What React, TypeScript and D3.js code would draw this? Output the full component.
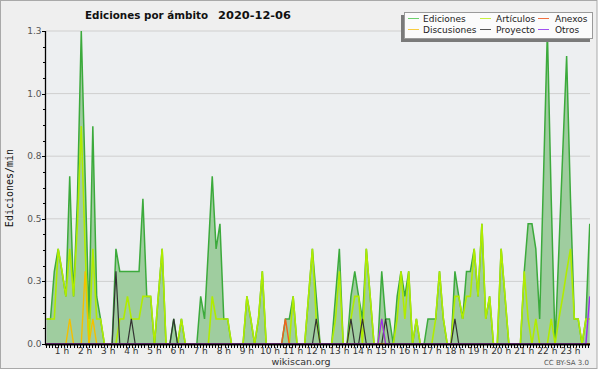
import React from "react";
import * as d3 from "d3";

// one sample every 10 minutes, first one at 00:20
const START_MIN = 20;
const STEP_MIN = 10;

// edits per minute
const ediciones = [
  0.1, 0.1, 0.29, 0.38, 0.29, 0.19, 0.67, 0.19, 0.58, 1.25, 0.67, 0.1, 0.87, 0.19, 0.1, 0, 0, 0, 0.38, 0.29,
  0.29, 0.29, 0.29, 0.29, 0.29, 0.58, 0.19, 0.19, 0, 0.19, 0.38, 0, 0, 0.1, 0, 0.1, 0, 0, 0, 0,
  0.19, 0.1, 0.38, 0.67, 0.38, 0.48, 0.1, 0.1, 0, 0, 0, 0, 0.19, 0.1, 0, 0.1, 0.29, 0, 0, 0,
  0, 0, 0.1, 0.1, 0.19, 0, 0, 0, 0.19, 0.38, 0.19, 0, 0, 0, 0, 0.19, 0.38, 0, 0, 0.19,
  0.29, 0.19, 0.1, 0.38, 0.19, 0, 0, 0.29, 0.1, 0.1, 0, 0.19, 0.29, 0.19, 0.29, 0, 0.1, 0, 0, 0.1,
  0.1, 0.1, 0.29, 0.1, 0, 0, 0.29, 0.19, 0.1, 0.29, 0.29, 0.38, 0.19, 0.48, 0.1, 0.19, 0, 0, 0.38, 0.19,
  0, 0, 0, 0, 0.29, 0.48, 0.48, 0.38, 0.1, 0.67, 1.25, 0.58, 0, 0.38, 0.77, 1.15, 0.58, 0.1, 0.1, 0,
  0.1, 0.48,
];

const articulos = [
  0.1, 0.1, 0.1, 0.38, 0.29, 0.19, 0.38, 0.19, 0.48, 0.87, 0.38, 0, 0.38, 0.1, 0.1, 0, 0, 0, 0, 0.1,
  0.1, 0.19, 0.1, 0.1, 0.1, 0.19, 0.19, 0.19, 0, 0.19, 0.38, 0, 0, 0, 0, 0.1, 0, 0, 0, 0,
  0, 0, 0, 0.19, 0.1, 0.1, 0.1, 0.1, 0, 0, 0, 0, 0.19, 0.1, 0, 0.1, 0.29, 0, 0, 0,
  0, 0, 0, 0, 0.19, 0, 0, 0, 0.19, 0.38, 0.1, 0, 0, 0, 0, 0.1, 0.29, 0, 0, 0.1,
  0.19, 0.19, 0, 0.38, 0.19, 0, 0, 0.1, 0, 0, 0, 0.1, 0.29, 0.1, 0.29, 0, 0.1, 0, 0, 0,
  0, 0.1, 0.29, 0.1, 0, 0, 0.19, 0.19, 0.1, 0.19, 0.19, 0.38, 0.19, 0.48, 0.1, 0.19, 0, 0, 0.38, 0.19,
  0, 0, 0, 0, 0.29, 0.1, 0, 0.1, 0, 0, 0, 0.1, 0, 0.1, 0.19, 0.29, 0.38, 0.1, 0.1, 0,
  0.1, 0.1,
];

const discusiones = [
  0, 0, 0, 0, 0, 0, 0.1, 0, 0, 0, 0.29, 0, 0.1, 0, 0, 0, 0, 0, 0, 0,
  0, 0, 0, 0, 0, 0, 0, 0, 0, 0, 0, 0, 0, 0, 0, 0, 0, 0, 0, 0,
  0, 0, 0, 0, 0, 0, 0, 0, 0, 0, 0, 0, 0, 0, 0, 0, 0, 0, 0, 0,
  0, 0, 0, 0, 0, 0, 0, 0, 0, 0, 0, 0, 0, 0, 0, 0, 0, 0, 0, 0,
  0, 0, 0, 0, 0, 0, 0, 0, 0, 0, 0, 0, 0, 0, 0, 0, 0, 0, 0, 0,
  0, 0, 0, 0, 0, 0, 0, 0, 0, 0, 0, 0, 0, 0, 0, 0, 0, 0, 0, 0,
  0, 0, 0, 0, 0, 0, 0, 0, 0, 0, 0, 0, 0, 0, 0, 0, 0, 0, 0, 0,
  0, 0,
];

const proyecto = [
  0, 0, 0, 0, 0, 0, 0, 0, 0, 0, 0, 0, 0, 0, 0, 0, 0, 0, 0.29, 0,
  0, 0, 0.1, 0, 0, 0, 0, 0, 0, 0, 0, 0, 0, 0.1, 0, 0, 0, 0, 0, 0,
  0, 0, 0, 0, 0, 0, 0, 0, 0, 0, 0, 0, 0, 0, 0, 0, 0, 0, 0, 0,
  0, 0, 0, 0, 0, 0, 0, 0, 0, 0, 0.1, 0, 0, 0, 0, 0, 0, 0, 0, 0.1,
  0, 0, 0.1, 0, 0, 0, 0, 0, 0.1, 0, 0, 0, 0, 0, 0, 0, 0, 0, 0, 0,
  0, 0, 0, 0, 0, 0, 0.1, 0, 0, 0, 0, 0, 0, 0, 0, 0, 0, 0, 0, 0,
  0, 0, 0, 0, 0, 0, 0, 0, 0, 0, 0, 0, 0, 0, 0, 0, 0, 0, 0, 0,
  0, 0,
];

const anexos = [
  0, 0, 0, 0, 0, 0, 0, 0, 0, 0, 0, 0, 0, 0, 0, 0, 0, 0, 0, 0,
  0, 0, 0, 0, 0, 0, 0, 0, 0, 0, 0, 0, 0, 0, 0, 0, 0, 0, 0, 0,
  0, 0, 0, 0, 0, 0, 0, 0, 0, 0, 0, 0, 0, 0, 0, 0, 0, 0, 0, 0,
  0, 0, 0.1, 0, 0, 0, 0, 0, 0, 0, 0, 0, 0, 0, 0, 0, 0, 0, 0, 0,
  0, 0, 0, 0, 0, 0, 0, 0, 0, 0, 0, 0, 0, 0, 0, 0, 0, 0, 0, 0,
  0, 0, 0, 0, 0, 0, 0, 0, 0, 0, 0, 0, 0, 0, 0, 0, 0, 0, 0, 0,
  0, 0, 0, 0, 0, 0, 0, 0, 0, 0, 0, 0, 0, 0, 0, 0, 0, 0, 0, 0,
  0, 0,
];

const otros = [
  0, 0, 0, 0, 0, 0, 0, 0, 0, 0, 0, 0, 0, 0, 0, 0, 0, 0, 0, 0,
  0, 0, 0, 0, 0, 0, 0, 0, 0, 0, 0, 0, 0, 0, 0, 0, 0, 0, 0, 0,
  0, 0, 0, 0, 0, 0, 0, 0, 0, 0, 0, 0, 0, 0, 0, 0, 0, 0, 0, 0,
  0, 0, 0, 0, 0, 0, 0, 0, 0, 0, 0, 0, 0, 0, 0, 0, 0, 0, 0, 0,
  0, 0, 0, 0, 0, 0, 0, 0.1, 0, 0, 0, 0, 0, 0, 0, 0, 0, 0, 0, 0,
  0, 0, 0, 0, 0, 0, 0, 0, 0, 0, 0, 0, 0, 0, 0, 0, 0, 0, 0, 0,
  0, 0, 0, 0, 0, 0, 0, 0, 0, 0, 0, 0, 0, 0, 0, 0, 0, 0, 0, 0,
  0, 0.19,
];

const hourLabels = [
  "1 h", "2 h", "3 h", "4 h", "5 h", "6 h", "7 h", "8 h", "9 h", "10 h", "11 h", "12 h",
  "13 h", "14 h", "15 h", "16 h", "17 h", "18 h", "19 h", "20 h", "21 h", "22 h", "23 h",
];
const yTicks = [0, 0.25, 0.5, 0.75, 1, 1.25];

const lineSeries = [
  { name: "Artículos", values: articulos, color: "#b0ec00", width: 1.6 },
  { name: "Discusiones", values: discusiones, color: "#f4c000", width: 1.4 },
  { name: "Proyecto", values: proyecto, color: "#333333", width: 1.2 },
  { name: "Anexos", values: anexos, color: "#f0621e", width: 1.4 },
  { name: "Otros", values: otros, color: "#9a2ff0", width: 1.4 },
];

const legendItems = [
  { name: "Ediciones", color: "#6ccf6c", col: 0, row: 0 },
  { name: "Discusiones", color: "#f8cc40", col: 0, row: 1 },
  { name: "Artículos", color: "#c8f040", col: 1, row: 0 },
  { name: "Proyecto", color: "#555555", col: 1, row: 1 },
  { name: "Anexos", color: "#f07040", col: 2, row: 0 },
  { name: "Otros", color: "#a050f0", col: 2, row: 1 },
];

const FONT = "'DejaVu Sans', Verdana, sans-serif";

export default function App() {
  const left = 46;
  const right = 590;
  const top = 31;
  const bottom = 344;

  const x = d3.scaleLinear().domain([0, 1440]).range([38.9, 593.6]);
  const y = d3.scaleLinear().domain([0, 1.25]).range([bottom, top]);
  const tAt = (i: number) => START_MIN + i * STEP_MIN;

  const line = d3
    .line<number>()
    .x((_, i) => x(tAt(i)))
    .y((d) => y(d));
  const area = d3
    .area<number>()
    .x((_, i) => x(tAt(i)))
    .y0(y(0))
    .y1((d) => y(d));

  const minorY = d3.range(0, 1.25 + 1e-9, 0.0625);
  const minorX = d3.range(18, 1432, 8);

  const legCols = [408, 480, 538];
  const legText = [423, 496, 555];
  const legRows = [18.5, 29.5];

  return (
    <div>
      <style>{`body{margin:0;background:#fff}`}</style>
      <svg width={600} height={370} style={{ display: "block" }}>
        <rect x={0.5} y={0.5} width={596.5} height={368} fill="#efefef" stroke="#a9a9a9" />
        <rect x={left} y={top} width={right - left} height={bottom - top} fill="#edeff1" />

        {yTicks.slice(1).map((t) => (
          <line key={t} x1={left} x2={right} y1={y(t)} y2={y(t)} stroke="#cfcfcf" strokeWidth={1} />
        ))}

        <defs>
          <clipPath id="plotClip">
            <rect x={left} y={top - 2} width={right - left} height={bottom - top + 2} />
          </clipPath>
        </defs>

        <g clipPath="url(#plotClip)">
          <path d={area(ediciones) ?? ""} fill="#9fcd9f" />
          <path d={line(ediciones) ?? ""} fill="none" stroke="#3caa3c" strokeWidth={1.5} />
          {lineSeries.map((s) => (
            <path key={s.name} d={line(s.values) ?? ""} fill="none" stroke={s.color} strokeWidth={s.width} />
          ))}
        </g>

        {/* y axis */}
        <line x1={left - 0.5} x2={left - 0.5} y1={top} y2={bottom + 1} stroke="#000" strokeWidth={1.3} />
        {minorY.map((t, i) => (
          <line
            key={i}
            x1={i % 4 === 0 ? left - 4 : left - 3}
            x2={left}
            y1={Math.round(y(t)) + 0.5}
            y2={Math.round(y(t)) + 0.5}
            stroke="#000"
          />
        ))}
        {yTicks.map((t) => (
          <text key={t} x={41.5} y={y(t) + 3} textAnchor="end" fontFamily={FONT} fontSize={9} fill="#555">
            {t.toFixed(1)}
          </text>
        ))}
        <text
          transform="translate(13,188) rotate(-90)"
          textAnchor="middle"
          fontFamily="'DejaVu Sans Mono', monospace"
          fontSize={10}
          fill="#111"
        >
          Ediciones/min
        </text>

        {/* x axis */}
        <line x1={left - 1} x2={right} y1={bottom + 0.5} y2={bottom + 0.5} stroke="#000" strokeWidth={2} />
        {minorX.map((t) => (
          <line
            key={t}
            x1={Math.round(x(t)) + 0.5}
            x2={Math.round(x(t)) + 0.5}
            y1={bottom + 1}
            y2={bottom + 4}
            stroke="#000"
          />
        ))}
        {hourLabels.map((h, i) => (
          <text key={h} x={x((i + 1) * 60)} y={353.5} textAnchor="middle" fontFamily={FONT} fontSize={9} fill="#333">
            {h}
          </text>
        ))}

        {/* title */}
        <text x={85} y={18.5} fontFamily={FONT} fontSize={11} fontWeight="bold" fill="#111" textLength={123} lengthAdjust="spacingAndGlyphs">
          Ediciones por ámbito
        </text>
        <text x={218} y={18.5} fontFamily={FONT} fontSize={11} fontWeight="bold" fill="#111" textLength={73} lengthAdjust="spacingAndGlyphs">
          2020-12-06
        </text>

        {/* legend */}
        <rect x={401} y={15} width={189} height={27} fill="#7a7a7a" />
        <rect x={404.5} y={12.5} width={188} height={26} fill="#fbfbfb" stroke="#9a9a9a" />
        {legendItems.map((it) => (
          <g key={it.name}>
            <line
              x1={legCols[it.col]}
              x2={legCols[it.col] + 11}
              y1={legRows[it.row]}
              y2={legRows[it.row]}
              stroke={it.color}
              strokeWidth={1}
            />
            <text x={legText[it.col]} y={legRows[it.row] + 3.5} fontFamily={FONT} fontSize={9} fill="#222">
              {it.name}
            </text>
          </g>
        ))}

        <text x={301} y={365} textAnchor="middle" fontFamily={FONT} fontSize={9.5} fill="#333">
          wikiscan.org
        </text>
        <text x={589} y={365} textAnchor="end" fontFamily={FONT} fontSize={7} fill="#555">
          CC BY-SA 3.0
        </text>
      </svg>
    </div>
  );
}
